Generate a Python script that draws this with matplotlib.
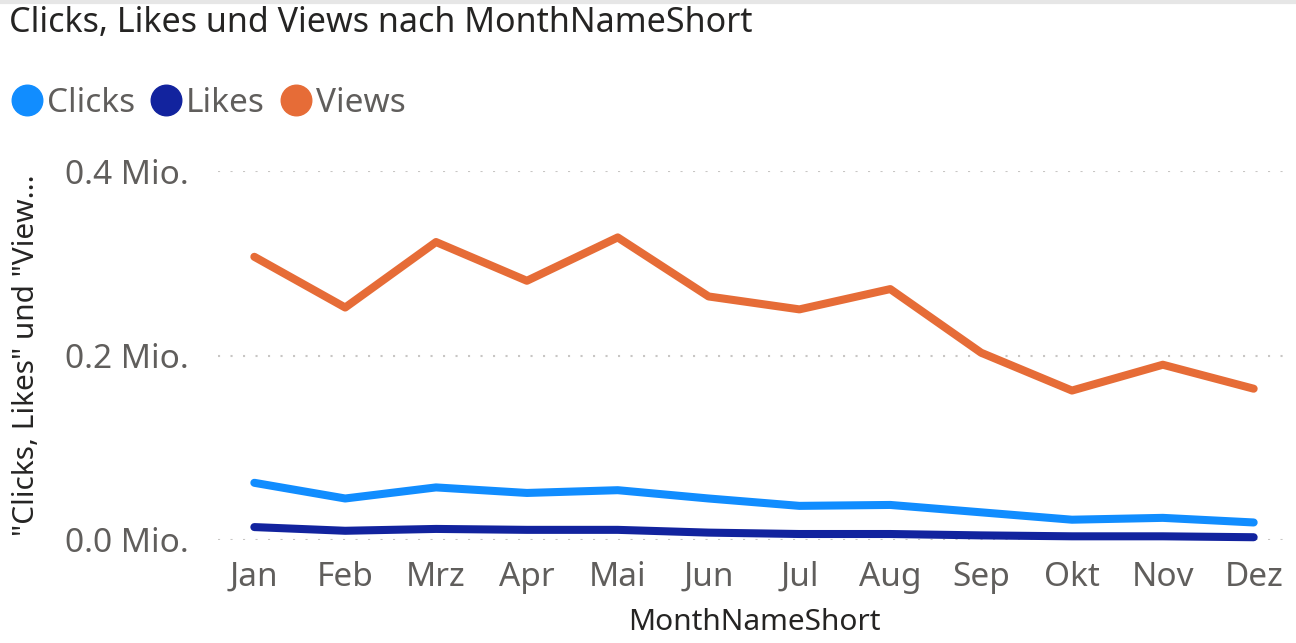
import matplotlib
matplotlib.use("Agg")
import matplotlib.pyplot as plt
from matplotlib.lines import Line2D
from matplotlib.ticker import FuncFormatter

plt.rcParams['font.family'] = ['Noto Sans', 'DejaVu Sans']

monate = ["Jan", "Feb", "Mrz", "Apr", "Mai", "Jun", "Jul", "Aug", "Sep", "Okt", "Nov", "Dez"]
views = [0.307, 0.252, 0.323, 0.281, 0.328, 0.264, 0.250, 0.272, 0.203, 0.162, 0.190, 0.164]
clicks = [0.062, 0.045, 0.057, 0.051, 0.054, 0.045, 0.037, 0.038, 0.030, 0.022, 0.024, 0.019]
likes = [0.014, 0.010, 0.012, 0.011, 0.011, 0.008, 0.0065, 0.0065, 0.005, 0.004, 0.004, 0.003]

farben = {"Clicks": "#118DFF", "Likes": "#12239E", "Views": "#E66C37"}
grau = "#605E5C"

W, H = 1296, 643
fig = plt.figure(figsize=(W / 100, H / 100), dpi=100)
ax = fig.add_axes([218 / W, 1 - 540 / H, (1290 - 218) / W, (540 - 171) / H])

x = range(len(monate))
for name, werte in [("Clicks", clicks), ("Likes", likes), ("Views", views)]:
    ax.plot(x, werte, color=farben[name], lw=5.8, solid_capstyle="round",
            solid_joinstyle="round", clip_on=False, zorder=3)

ax.set_xlim(-0.4, 11.4)
ax.set_ylim(0, 0.4)
ax.set_yticks([0, 0.2, 0.4])
ax.yaxis.set_major_formatter(FuncFormatter(lambda v, p: f"{v:.1f} Mio."))
ax.set_xticks(list(x))
ax.set_xticklabels(monate)
ax.grid(axis="y", color="#C8C6C4", linestyle=(0, (1, 5)), lw=1.5)
ax.tick_params(length=0, labelsize=24, colors=grau)
ax.tick_params(axis="y", pad=21)
ax.tick_params(axis="x", pad=15)
for s in ax.spines.values():
    s.set_visible(False)

fig.text(754 / W, 1 - 623 / H, "MonthNameShort", ha="center", va="center",
         fontsize=21.5, color="#252423")
fig.text(27 / W, 1 - 355 / H, '"Clicks, Likes" und "View...', ha="center", va="center",
         rotation=90, fontsize=21.5, color="#252423")
fig.text(9 / W, 1 - 23 / H, "Clicks, Likes und Views nach MonthNameShort",
         ha="left", va="center", fontsize=24.5, color="#252423")

# Legende
handles = [Line2D([], [], marker="o", ls="", markersize=22, color=farben[n]) for n in farben]
leg = fig.legend(handles, list(farben), loc="center left", bbox_to_anchor=(-8 / W, 1 - 103 / H),
                 ncol=3, frameon=False, fontsize=24, handletextpad=-0.05, columnspacing=0.28,
                 handlelength=1.3, borderaxespad=0)
for t in leg.get_texts():
    t.set_color(grau)

fig.add_artist(Line2D([0, 1], [1 - 1.5 / H, 1 - 1.5 / H], color="#E6E6E6", lw=3,
                      transform=fig.transFigure))

fig.savefig("out.png", dpi=100)
